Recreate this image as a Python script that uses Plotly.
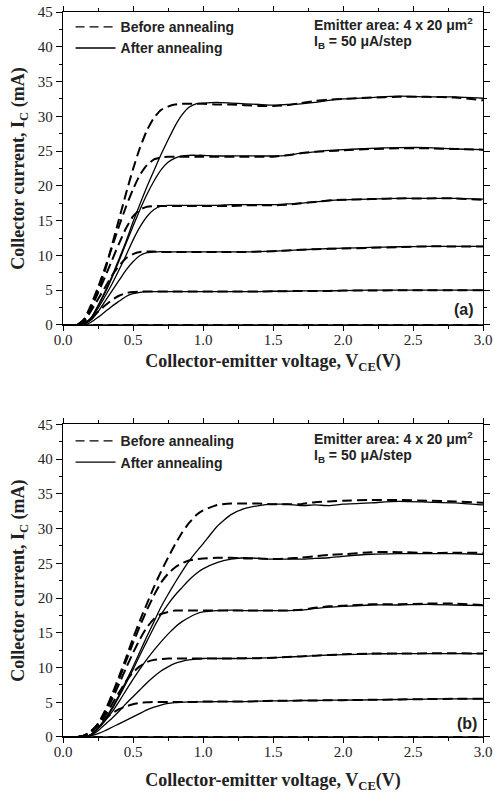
import plotly.graph_objects as go

# ---------------- data ----------------
VCE = [0.00, 0.10, 0.15, 0.20, 0.25, 0.30, 0.35, 0.40, 0.45, 0.50,
       0.55, 0.60, 0.65, 0.70, 0.75, 0.80, 0.85, 0.90, 0.95, 1.00,
       1.10, 1.20, 1.30, 1.40, 1.50, 1.60, 1.70, 1.80, 1.90, 2.00,
       2.20, 2.40, 2.60, 2.80, 3.00]

ZERO_V = [0.0, 3.0]
ZERO_I = [0.0, 0.0]

# (a) before annealing (dashed)
a_before_1 = [0, 0, 0.3, 1.0, 1.9, 2.8, 3.6, 4.2, 4.6, 4.75, 4.8, 4.8, 4.8, 4.8, 4.8, 4.8, 4.8, 4.8, 4.8, 4.8,
              4.8, 4.8, 4.8, 4.8, 4.85, 4.85, 4.9, 4.9, 4.9, 4.95, 4.95, 5.0, 5.0, 5.0, 5.0]
a_before_2 = [0, 0, 0.5, 2.0, 3.7, 5.4, 7.1, 8.5, 9.6, 10.2, 10.5, 10.55, 10.55, 10.5, 10.5, 10.5, 10.5, 10.5, 10.5, 10.5,
              10.5, 10.5, 10.5, 10.55, 10.6, 10.7, 10.8, 10.9, 10.95, 11.0, 11.1, 11.2, 11.3, 11.3, 11.3]
a_before_3 = [0, 0, 0.6, 2.4, 4.6, 6.9, 9.3, 11.7, 13.9, 15.6, 16.6, 17.0, 17.1, 17.1, 17.1, 17.1, 17.1, 17.1, 17.1, 17.1,
              17.1, 17.1, 17.2, 17.2, 17.2, 17.3, 17.5, 17.7, 17.9, 18.0, 18.1, 18.2, 18.2, 18.2, 18.0]
a_before_4 = [0, 0, 0.8, 2.9, 5.4, 8.2, 11.2, 14.2, 17.0, 19.5, 21.6, 23.0, 23.8, 24.1, 24.2, 24.2, 24.2, 24.2, 24.2, 24.2,
              24.2, 24.2, 24.2, 24.2, 24.2, 24.4, 24.7, 24.9, 25.0, 25.1, 25.3, 25.4, 25.4, 25.3, 25.2]
a_before_5 = [0, 0, 0.8, 2.5, 4.9, 7.8, 11.5, 15.2, 18.9, 22.4, 25.5, 28.0, 29.8, 30.9, 31.4, 31.7, 31.8, 31.8, 31.8, 31.8,
              31.7, 31.7, 31.6, 31.5, 31.5, 31.6, 31.9, 32.2, 32.4, 32.5, 32.7, 32.8, 32.8, 32.7, 32.3]

# (a) after annealing (solid)
a_after_1 = [0, 0, 0, 0.4, 1.1, 1.9, 2.7, 3.4, 4.1, 4.5, 4.7, 4.8, 4.8, 4.8, 4.8, 4.8, 4.8, 4.8, 4.8, 4.8,
             4.8, 4.8, 4.8, 4.8, 4.85, 4.85, 4.9, 4.9, 4.9, 4.95, 5.0, 5.0, 5.0, 5.0, 5.0]
a_after_2 = [0, 0, 0.1, 0.7, 1.9, 3.4, 4.9, 6.4, 7.9, 9.1, 10.0, 10.4, 10.5, 10.55, 10.55, 10.5, 10.5, 10.5, 10.5, 10.5,
             10.5, 10.5, 10.5, 10.55, 10.6, 10.7, 10.8, 10.9, 11.0, 11.05, 11.15, 11.25, 11.3, 11.3, 11.3]
a_after_3 = [0, 0, 0.2, 0.9, 2.4, 4.1, 5.9, 7.9, 10.0, 12.2, 14.1, 15.6, 16.6, 17.1, 17.2, 17.2, 17.2, 17.2, 17.2, 17.2,
             17.2, 17.3, 17.3, 17.3, 17.3, 17.4, 17.5, 17.7, 17.9, 18.0, 18.1, 18.2, 18.2, 18.2, 18.1]
a_after_4 = [0, 0, 0.2, 1.0, 2.7, 4.6, 6.8, 9.2, 11.7, 14.2, 16.6, 18.8, 20.7, 22.3, 23.4, 24.0, 24.3, 24.4, 24.4, 24.4,
             24.3, 24.3, 24.3, 24.3, 24.3, 24.4, 24.7, 24.9, 25.1, 25.2, 25.4, 25.5, 25.5, 25.3, 25.2]
a_after_5 = [0, 0, 0.2, 1.0, 2.8, 4.8, 7.0, 9.5, 12.0, 14.8, 17.4, 19.9, 22.2, 24.5, 26.6, 28.6, 30.2, 31.3, 31.8, 31.9,
             32.0, 31.9, 31.8, 31.7, 31.6, 31.7, 31.8, 32.0, 32.3, 32.5, 32.7, 32.9, 32.8, 32.8, 32.6]

# (b) before annealing (dashed)
b_before_1 = [0, 0, 0.2, 0.7, 1.6, 2.6, 3.4, 4.0, 4.4, 4.7, 4.9, 5.0, 5.05, 5.05, 5.05, 5.05, 5.05, 5.05, 5.05, 5.1,
              5.1, 5.1, 5.1, 5.15, 5.2, 5.2, 5.25, 5.25, 5.3, 5.3, 5.35, 5.4, 5.45, 5.5, 5.5]
b_before_2 = [0, 0, 0.2, 0.8, 1.8, 3.0, 4.7, 6.4, 8.0, 9.3, 10.2, 10.8, 11.1, 11.2, 11.3, 11.3, 11.3, 11.3, 11.3, 11.3,
              11.3, 11.3, 11.35, 11.35, 11.4, 11.5, 11.6, 11.7, 11.8, 11.9, 12.0, 12.0, 12.05, 12.05, 12.0]
b_before_3 = [0, 0, 0.2, 0.8, 1.9, 3.4, 5.4, 7.6, 9.9, 12.1, 14.1, 15.8, 17.0, 17.7, 18.0, 18.2, 18.2, 18.2, 18.2, 18.2,
              18.2, 18.2, 18.2, 18.2, 18.2, 18.2, 18.3, 18.6, 18.8, 18.9, 19.1, 19.1, 19.2, 19.2, 19.0]
b_before_4 = [0, 0, 0.2, 0.8, 1.8, 3.6, 5.8, 8.3, 10.9, 13.5, 16.0, 18.3, 20.4, 22.2, 23.5, 24.4, 25.0, 25.4, 25.6, 25.7,
              25.8, 25.8, 25.7, 25.7, 25.6, 25.7, 25.8, 26.0, 26.2, 26.3, 26.6, 26.6, 26.5, 26.5, 26.5]
b_before_5 = [0, 0, 0.2, 0.8, 1.9, 3.8, 6.1, 8.7, 11.4, 14.2, 16.8, 19.2, 21.6, 23.8, 25.8, 27.7, 29.4, 30.8, 31.9, 32.6,
              33.4, 33.6, 33.6, 33.6, 33.5, 33.5, 33.5, 33.8, 33.9, 34.0, 34.1, 34.1, 34.0, 33.9, 33.7]

# (b) after annealing (solid)
b_after_1 = [0, 0, 0, 0.2, 0.5, 0.9, 1.4, 1.9, 2.4, 2.9, 3.4, 3.9, 4.3, 4.6, 4.85, 4.95, 5.0, 5.05, 5.05, 5.05,
             5.1, 5.1, 5.1, 5.15, 5.2, 5.2, 5.25, 5.25, 5.3, 5.3, 5.35, 5.4, 5.45, 5.5, 5.5]
b_after_2 = [0, 0, 0, 0.2, 0.9, 1.8, 2.7, 3.7, 4.8, 5.8, 6.8, 7.8, 8.7, 9.5, 10.1, 10.6, 10.9, 11.1, 11.2, 11.3,
             11.3, 11.3, 11.3, 11.35, 11.4, 11.5, 11.6, 11.7, 11.8, 11.85, 11.95, 12.0, 12.0, 12.0, 12.0]
b_after_3 = [0, 0, 0, 0.3, 1.2, 2.3, 3.6, 5.1, 6.7, 8.3, 9.8, 11.2, 12.5, 13.7, 14.8, 15.8, 16.6, 17.2, 17.7, 18.0,
             18.2, 18.25, 18.2, 18.2, 18.2, 18.2, 18.25, 18.5, 18.7, 18.8, 19.0, 19.0, 19.1, 19.0, 18.9]
b_after_4 = [0, 0, 0, 0.3, 1.3, 2.5, 4.0, 5.8, 7.7, 9.7, 11.8, 13.8, 15.8, 17.6, 19.1, 20.4, 21.5, 22.6, 23.5, 24.2,
             25.1, 25.6, 25.8, 25.7, 25.6, 25.6, 25.6, 25.7, 25.8, 26.0, 26.3, 26.4, 26.4, 26.4, 26.3]
b_after_5 = [0, 0, 0, 0.4, 1.3, 2.6, 4.2, 6.0, 8.0, 10.1, 12.3, 14.5, 16.6, 18.7, 20.5, 22.2, 23.8, 25.3, 26.6, 27.8,
             30.3, 32.0, 32.9, 33.3, 33.5, 33.5, 33.3, 33.4, 33.3, 33.5, 33.7, 33.9, 33.8, 33.7, 33.4]

X_TICKS = [0.0, 0.5, 1.0, 1.5, 2.0, 2.5, 3.0]
Y_TICKS = [0, 5, 10, 15, 20, 25, 30, 35, 40, 45]

LEGEND_NAMES = ["Before annealing", "After annealing"]

# ---------------- figure ----------------
fig = go.Figure()

DASH = "10px,5px"
SERIF = "Liberation Serif, Times New Roman, serif"
SANS = "Liberation Sans, Arial, sans-serif"


def add_curve(x, y, xa, ya, dashed):
    fig.add_trace(go.Scatter(
        x=x, y=y, xaxis=xa, yaxis=ya, mode="lines",
        line=dict(color="black", width=2.0 if dashed else 1.3,
                  dash=DASH if dashed else "solid", shape="spline", smoothing=0.5),
        showlegend=False, hoverinfo="skip"))


panels = [
    ("x", "y", [a_before_1, a_before_2, a_before_3, a_before_4, a_before_5],
     [a_after_1, a_after_2, a_after_3, a_after_4, a_after_5], "legend"),
    ("x2", "y2", [b_before_1, b_before_2, b_before_3, b_before_4, b_before_5],
     [b_after_1, b_after_2, b_after_3, b_after_4, b_after_5], "legend2"),
]

for xa, ya, before, after, leg in panels:
    # legend entries
    fig.add_trace(go.Scatter(x=[None], y=[None], xaxis=xa, yaxis=ya, mode="lines",
                             line=dict(color="black", width=1.3, dash="9px,5px"),
                             name=LEGEND_NAMES[0], legend=leg, showlegend=True))
    fig.add_trace(go.Scatter(x=[None], y=[None], xaxis=xa, yaxis=ya, mode="lines",
                             line=dict(color="black", width=1.3),
                             name=LEGEND_NAMES[1], legend=leg, showlegend=True))
    add_curve(ZERO_V, ZERO_I, xa, ya, True)
    add_curve(ZERO_V, ZERO_I, xa, ya, False)
    for y in before:
        add_curve(VCE, y, xa, ya, True)
    for y in after:
        add_curve(VCE, y, xa, ya, False)

xcommon = dict(
    range=[0, 3], tickmode="array", tickvals=X_TICKS, tickformat=".1f",
    ticks="outside", ticklen=5, tickwidth=1, tickcolor="black",
    minor=dict(ticks="outside", ticklen=3, tickwidth=1, dtick=0.25, tickcolor="black"),
    showline=True, linecolor="black", linewidth=1.3, mirror="ticks",
    showgrid=False, zeroline=False, automargin=False,
    tickfont=dict(family=SERIF, size=15, color="#222"),
)
X_TITLE = "Collector-emitter voltage, V<sub>CE</sub>(V)"
title_font = dict(family=SERIF, size=18, color="#222", weight="bold")
ycommon = dict(
    range=[0, 45], tickmode="array", tickvals=Y_TICKS,
    ticks="outside", ticklen=6, tickwidth=1, tickcolor="black",
    minor=dict(ticks="outside", ticklen=3, tickwidth=1, dtick=2.5, tickcolor="black"),
    showline=True, linecolor="black", linewidth=1.3, mirror="ticks",
    showgrid=False, zeroline=False, automargin=False,
    tickfont=dict(family=SERIF, size=15, color="#222"),
    title=dict(text="Collector current, I<sub>C</sub> (mA)", font=title_font, standoff=8),
)

legcommon = dict(
    font=dict(family=SANS, size=14, color="#222", weight="bold"),
    bgcolor="rgba(0,0,0,0)", borderwidth=0, tracegroupgap=0, itemwidth=40,
    xanchor="left", yanchor="top", x=0.018,
)

ann_font = dict(family=SANS, size=14, color="#222", weight="bold")
lab_font = dict(family=SANS, size=16, color="#222", weight="bold")
annotations = []
for yref, y1, y2, lab, labx, laby in [("y domain", 0.962, 0.904, "(a)", 0.983, 0.048),
                                       ("y2 domain", 0.957, 0.899, "(b)", 0.990, 0.044)]:
    xr = "x domain" if yref == "y domain" else "x2 domain"
    annotations.append(dict(text="Emitter area: 4 x 20 μm<sup>2</sup>", xref=xr, yref=yref,
                            x=0.592, y=y1, xanchor="left", yanchor="middle",
                            showarrow=False, font=ann_font))
    annotations.append(dict(text="I<sub>B</sub> = 50 μA/step", xref=xr, yref=yref,
                            x=0.592, y=y2, xanchor="left", yanchor="middle",
                            showarrow=False, font=ann_font))
    annotations.append(dict(text=lab, xref=xr, yref=yref, x=labx, y=laby,
                            xanchor="right", yanchor="middle", showarrow=False, font=lab_font))

fig.update_layout(
    width=495, height=793,
    margin=dict(l=63, r=12, t=12, b=56, autoexpand=False),
    paper_bgcolor="white", plot_bgcolor="white",
    xaxis=dict(domain=[0, 1], anchor="y",
               title=dict(text=X_TITLE, font=title_font, standoff=7), **xcommon),
    yaxis=dict(domain=[0.5683, 1], anchor="x", **ycommon),
    xaxis2=dict(domain=[0, 1], anchor="y2",
                title=dict(text=X_TITLE, font=title_font, standoff=14), **xcommon),
    yaxis2=dict(domain=[0, 0.4313], anchor="x2", **ycommon),
    legend=dict(y=1.0011, **legcommon),
    legend2=dict(y=0.430, **legcommon),
    annotations=annotations,
)

try:
    fig.update_xaxes(ticklabelstandoff=-4)
except Exception:
    pass

fig.write_html("out.html")
